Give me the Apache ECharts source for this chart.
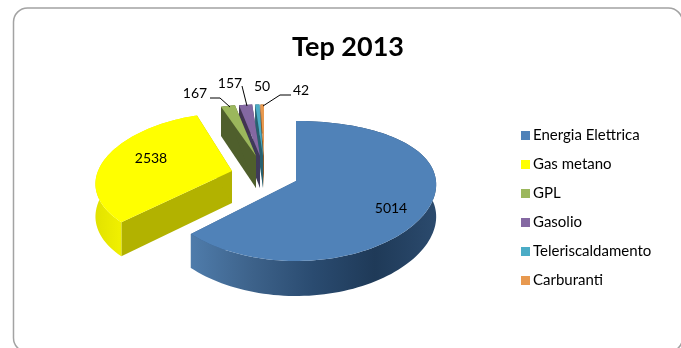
<!DOCTYPE html>
<html>
<head>
<meta charset="utf-8">
<style>html,body{margin:0;padding:0;background:#fff}#c{width:681px;height:348px}</style>
<script src="https://cdn.jsdelivr.net/npm/echarts@6/dist/echarts.min.js"></script>
</head>
<body>
<div id="c"></div>
<script>
const categories = ['Energia Elettrica', 'Gas metano', 'GPL', 'Gasolio', 'Teleriscaldamento', 'Carburanti'];
const tep2013 = [5014, 2538, 167, 157, 50, 42];
const chartTitle = 'Tep 2013';

const total = tep2013.reduce((a, b) => a + b, 0);
const RAD = Math.PI / 180;

// Look of every wedge: apex on screen, radius, foreshortening, stacking, top and wall colours
const wedgeStyles = [
  { ax: 296, ay: 181, r: 140, p: 0.05, sy: 1, z: 7, top: '#5082b8', wall: ['#4f7cab', '#3d628a', '#2a4b70', '#1f3a58', '#2b4a6d'], side: '#3a5f88' },
  { ax: 232, ay: 171, r: 134, p: 0.2, sy: 0.97, z: 6, top: '#ffff00', wall: ['#e2e200', '#f5f500', '#e8e800', '#f5f500'], side: '#b2b200' },
  { ax: 256, ay: 156, r: 134, p: 0.2, sy: 0.86, z: 5, top: '#9bb75c', wall: ['#4f5f2c', '#4f5f2c'], side: '#4f5f2c' },
  { ax: 260, ay: 156, r: 134, p: 0.2, sy: 0.86, z: 4, top: '#8468a2', wall: ['#413451', '#413451'], side: '#3f3a5a' },
  { ax: 263, ay: 156, r: 134, p: 0.2, sy: 0.86, z: 3, top: '#4bacc6', wall: ['#27606f', '#27606f'], side: '#27606f' },
  { ax: 264, ay: 156, r: 134, p: 0.2, sy: 0.86, z: 2, top: '#e8994f', wall: ['#8a5a2c', '#8a5a2c'], side: '#8a5a2c' }
];

// Value labels with their optional leader lines
const labelPlaces = [
  { x: 391, y: 208 },
  { x: 151, y: 158 },
  { x: 195, y: 93, leader: [[210, 98], [220, 98], [230, 107]] },
  { x: 230, y: 83, leader: [[242, 86], [247, 106]] },
  { x: 262, y: 86 },
  { x: 301, y: 90, leader: [[291, 95], [280, 95], [263, 106]] }
];

const DEPTH_BACK = 29, DEPTH_FRONT = 35;

// Project a rim point of a tilted disc: angle clockwise from twelve o'clock
function rim(s, deg) {
  const u = Math.sin(deg * RAD), v = -Math.cos(deg * RAD);
  const k = 1 + s.p * v;
  return [s.ax + s.r * u * k, s.ay + v * (70 + 10 * v) * s.sy];
}
function drop(p, deg) {
  const v = -Math.cos(deg * RAD);
  const d = (DEPTH_BACK + DEPTH_FRONT) / 2 + v * (DEPTH_FRONT - DEPTH_BACK) / 2;
  return [p[0], p[1] + d];
}
function arcPoints(s, a0, a1) {
  const n = Math.max(2, Math.ceil(Math.abs(a1 - a0) / 2));
  const pts = [];
  for (let i = 0; i <= n; i++) pts.push(a0 + (a1 - a0) * i / n);
  return pts;
}

function drawWedge(index, value) {
  const s = wedgeStyles[index];
  const before = tep2013.slice(0, index).reduce((a, b) => a + b, 0);
  const a0 = before / total * 360;
  const a1 = (before + value) / total * 360;
  const apex = [s.ax, s.ay];
  const apexLow = [s.ax, s.ay + (DEPTH_BACK + DEPTH_FRONT) / 2];
  const angles = arcPoints(s, a0, a1);
  const rimTop = angles.map(a => rim(s, a));
  const rimLow = angles.map((a, i) => drop(rimTop[i], a));
  const children = [];

  // Radial walls
  [[rimTop[0], rimLow[0]], [rimTop[rimTop.length - 1], rimLow[rimLow.length - 1]]].forEach(e => {
    children.push({
      type: 'polygon',
      shape: { points: [apex, e[0], e[1], apexLow] },
      style: { fill: s.side }
    });
  });

  // Outer curved wall, shaded from left to right
  const stops = s.wall.map((c, i) => ({ offset: i / (s.wall.length - 1), color: c }));
  children.push({
    type: 'polygon',
    shape: { points: rimTop.concat(rimLow.slice().reverse()) },
    style: { fill: { type: 'linear', x: 0, y: 0, x2: 1, y2: 0, colorStops: stops } }
  });

  // Top face
  children.push({
    type: 'polygon',
    shape: { points: [apex].concat(rimTop) },
    style: { fill: s.top }
  });

  return { type: 'group', children };
}

function drawLabel(index, value) {
  const p = labelPlaces[index];
  const children = [];
  if (p.leader) {
    children.push({
      type: 'polyline',
      shape: { points: p.leader },
      style: { stroke: '#000', lineWidth: 1, fill: 'none' }
    });
  }
  children.push({
    type: 'text',
    style: {
      x: p.x, y: p.y, text: String(value), fill: '#000',
      font: '14px Lato', align: 'center', verticalAlign: 'middle'
    }
  });
  return { type: 'group', children };
}

const chart = echarts.init(document.getElementById('c'), null, { renderer: 'canvas' });

const wedgeSeries = categories.map((name, i) => ({
  type: 'custom',
  name,
  coordinateSystem: 'none',
  silent: true,
  animation: false,
  itemStyle: { color: wedgeStyles[i].top },
  z: wedgeStyles[i].z,
  data: [[tep2013[i]]],
  renderItem: (params, api) => drawWedge(i, api.value(0))
}));
const labelSeries = categories.map((name, i) => ({
  type: 'custom',
  name: name + ' label',
  coordinateSystem: 'none',
  silent: true,
  animation: false,
  z: 10,
  data: [[tep2013[i]]],
  renderItem: (params, api) => drawLabel(i, api.value(0))
}));

chart.setOption({
  animation: false,
  backgroundColor: '#ffffff',
  title: {
    text: chartTitle,
    left: 343, top: 29, textAlign: 'center',
    textStyle: { fontFamily: 'Lato', fontWeight: 'bold', fontSize: 27, color: '#000' }
  },
  legend: {
    orient: 'vertical',
    left: 516, top: 122,
    itemWidth: 9, itemHeight: 9, itemGap: 12,
    icon: 'rect',
    data: categories,
    selectedMode: false,
    textStyle: { fontFamily: 'Lato', fontSize: 15, color: '#000', padding: [0, 0, 0, -2], lineHeight: 17 }
  },
  graphic: [{
    type: 'rect',
    silent: true,
    z: 0,
    shape: { x: 13.5, y: 8, width: 669, height: 344, r: 14 },
    style: { fill: 'none', stroke: '#a3a3a3', lineWidth: 1.5 }
  }],
  series: wedgeSeries.concat(labelSeries)
});
</script>
</body>
</html>
